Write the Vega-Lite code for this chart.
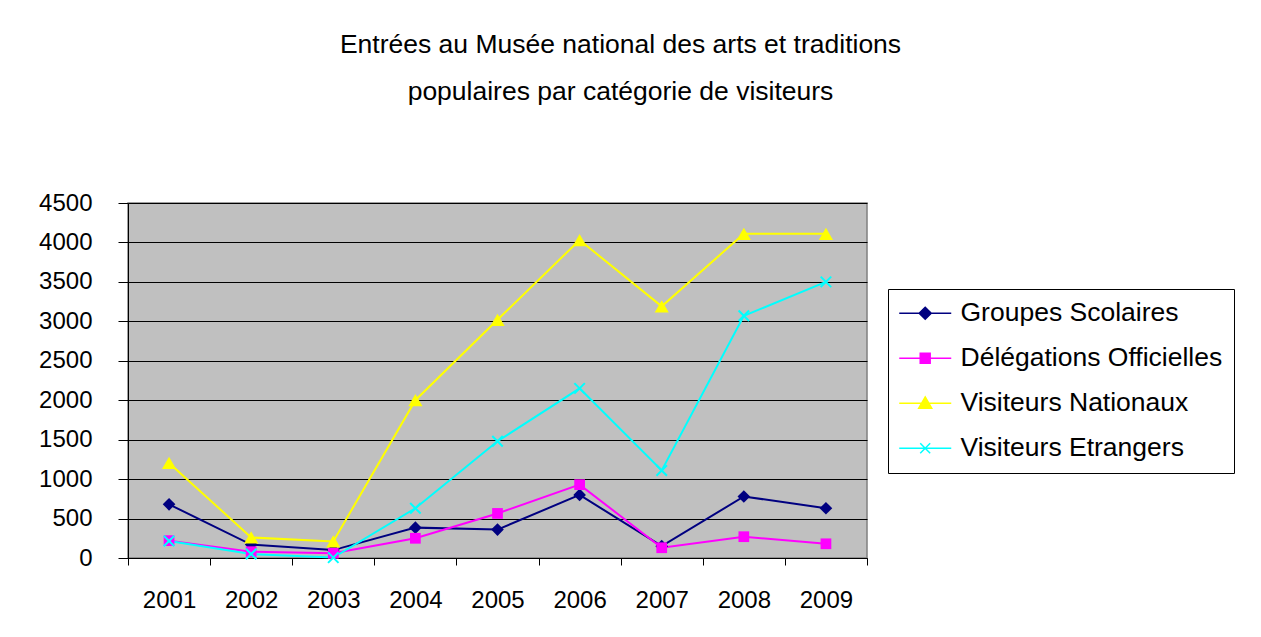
{
  "$schema": "https://vega.github.io/schema/vega-lite/v6.json",
  "width": 739,
  "height": 355,
  "autosize": {"type": "none"},
  "padding": {"left": 128, "top": 203, "right": 394, "bottom": 79},
  "background": "white",
  "title": {
    "text": ["Entrées au Musée national des arts et traditions", "populaires par catégorie de visiteurs"],
    "font": "Liberation Sans",
    "fontSize": 26.5,
    "fontWeight": "normal",
    "color": "black",
    "lineHeight": 47,
    "anchor": "middle",
    "dx": 123,
    "offset": 86
  },
  "data": {
    "values": [
      {"year": "2001", "series": "Groupes Scolaires", "value": 680},
      {"year": "2002", "series": "Groupes Scolaires", "value": 170},
      {"year": "2003", "series": "Groupes Scolaires", "value": 100},
      {"year": "2004", "series": "Groupes Scolaires", "value": 385},
      {"year": "2005", "series": "Groupes Scolaires", "value": 360},
      {"year": "2006", "series": "Groupes Scolaires", "value": 800},
      {"year": "2007", "series": "Groupes Scolaires", "value": 150},
      {"year": "2008", "series": "Groupes Scolaires", "value": 780},
      {"year": "2009", "series": "Groupes Scolaires", "value": 630},
      {"year": "2001", "series": "Délégations Officielles", "value": 220},
      {"year": "2002", "series": "Délégations Officielles", "value": 80},
      {"year": "2003", "series": "Délégations Officielles", "value": 60},
      {"year": "2004", "series": "Délégations Officielles", "value": 250},
      {"year": "2005", "series": "Délégations Officielles", "value": 565},
      {"year": "2006", "series": "Délégations Officielles", "value": 930},
      {"year": "2007", "series": "Délégations Officielles", "value": 130},
      {"year": "2008", "series": "Délégations Officielles", "value": 270},
      {"year": "2009", "series": "Délégations Officielles", "value": 180},
      {"year": "2001", "series": "Visiteurs Nationaux", "value": 1205},
      {"year": "2002", "series": "Visiteurs Nationaux", "value": 260},
      {"year": "2003", "series": "Visiteurs Nationaux", "value": 210},
      {"year": "2004", "series": "Visiteurs Nationaux", "value": 2000},
      {"year": "2005", "series": "Visiteurs Nationaux", "value": 3020},
      {"year": "2006", "series": "Visiteurs Nationaux", "value": 4030},
      {"year": "2007", "series": "Visiteurs Nationaux", "value": 3190},
      {"year": "2008", "series": "Visiteurs Nationaux", "value": 4110},
      {"year": "2009", "series": "Visiteurs Nationaux", "value": 4110},
      {"year": "2001", "series": "Visiteurs Etrangers", "value": 215},
      {"year": "2002", "series": "Visiteurs Etrangers", "value": 50},
      {"year": "2003", "series": "Visiteurs Etrangers", "value": 5},
      {"year": "2004", "series": "Visiteurs Etrangers", "value": 630},
      {"year": "2005", "series": "Visiteurs Etrangers", "value": 1480},
      {"year": "2006", "series": "Visiteurs Etrangers", "value": 2150},
      {"year": "2007", "series": "Visiteurs Etrangers", "value": 1110},
      {"year": "2008", "series": "Visiteurs Etrangers", "value": 3070},
      {"year": "2009", "series": "Visiteurs Etrangers", "value": 3500}
    ]
  },
  "encoding": {
    "x": {
      "field": "year",
      "type": "nominal",
      "scale": {"type": "band", "paddingInner": 0, "paddingOuter": 0},
      "axis": {
        "title": null,
        "labelAngle": 0,
        "tickBand": "extent",
        "tickSize": 7,
        "tickColor": "black",
        "domainColor": "black",
        "labelPadding": 23,
        "labelFont": "Liberation Sans",
        "labelFontSize": 24,
        "labelColor": "black",
        "grid": false
      }
    },
    "y": {
      "field": "value",
      "type": "quantitative",
      "scale": {"domain": [0, 4500], "nice": false},
      "axis": {
        "title": null,
        "format": "d",
        "values": [0, 500, 1000, 1500, 2000, 2500, 3000, 3500, 4000, 4500],
        "tickSize": 10,
        "tickColor": "black",
        "domainColor": "black",
        "labelPadding": 26,
        "labelFont": "Liberation Sans",
        "labelFontSize": 24,
        "labelColor": "black",
        "grid": true,
        "gridColor": "black",
        "gridOpacity": 1,
        "gridWidth": 1
      }
    },
    "color": {
      "field": "series",
      "type": "nominal",
      "scale": {
        "domain": ["Groupes Scolaires", "Délégations Officielles", "Visiteurs Nationaux", "Visiteurs Etrangers"],
        "range": ["#000080", "#FF00FF", "#FFFF00", "#00FFFF"]
      },
      "legend": {
        "title": null,
        "orient": "none",
        "legendX": 760,
        "legendY": 86,
        "strokeColor": "black",
        "fillColor": "white",
        "padding": 11,
        "rowPadding": 18,
        "symbolSize": 196,
        "labelOffset": 35,
        "labelFont": "Liberation Sans",
        "labelFontSize": 26.5,
        "labelColor": "black",
        "labelLimit": 400,
        "encode": {
          "symbols": {
            "update": {
              "shape": {"signal": "datum.value === 'Groupes Scolaires' ? 'M-1.86,0H5.57M1.85,-0.86L2.71,0L1.85,0.86L0.99,0Z' : datum.value === 'Délégations Officielles' ? 'M-1.86,0H5.57M1.14,-0.71H2.56V0.71H1.14Z' : datum.value === 'Visiteurs Nationaux' ? 'M-1.86,0H5.57M1.85,-0.9L2.78,0.71L0.92,0.71Z' : 'M-1.86,0H5.57M1.14,-0.71L2.56,0.71M1.14,0.71L2.56,-0.71'"},
              "fill": {"signal": "scale('color', datum.value)"},
              "stroke": {"signal": "scale('color', datum.value)"},
              "strokeWidth": {"value": 1.5},
              "opacity": {"value": 1},
              "fillOpacity": {"value": 1}
            }
          }
        }
      }
    }
  },
  "layer": [
    {
      "mark": {"type": "line", "strokeWidth": 2}
    },
    {
      "transform": [{"filter": "datum.series === 'Groupes Scolaires'"}],
      "mark": {"type": "point", "shape": "diamond", "size": 160, "filled": true, "opacity": 1}
    },
    {
      "transform": [{"filter": "datum.series === 'Délégations Officielles'"}],
      "mark": {"type": "point", "shape": "square", "size": 115, "filled": true, "opacity": 1}
    },
    {
      "transform": [{"filter": "datum.series === 'Visiteurs Nationaux'"}],
      "mark": {"type": "point", "shape": "triangle-up", "size": 200, "filled": true, "opacity": 1}
    },
    {
      "transform": [{"filter": "datum.series === 'Visiteurs Etrangers'"}],
      "mark": {"type": "point", "shape": "M-1,-1L1,1M-1,1L1,-1", "size": 110, "filled": false, "strokeWidth": 2, "opacity": 1}
    }
  ],
  "config": {
    "view": {"fill": "#C0C0C0", "stroke": "#808080", "strokeWidth": 1.5},
    "axis": {"domainWidth": 1, "tickWidth": 1}
  }
}
